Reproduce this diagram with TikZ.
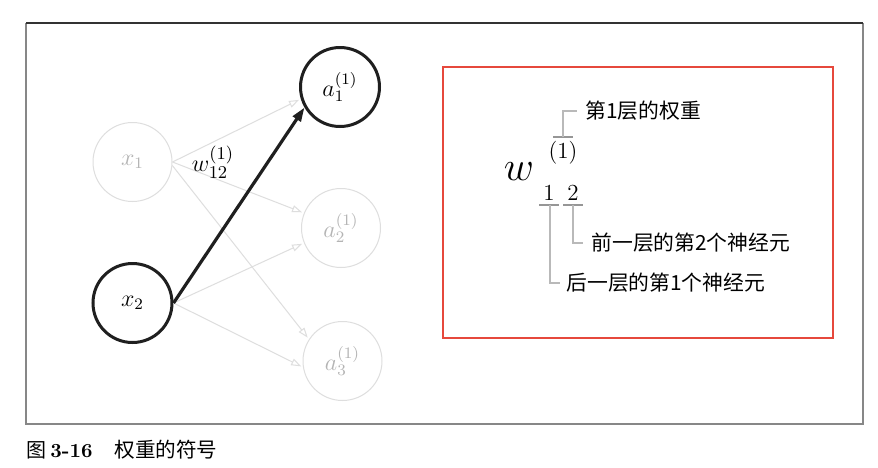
\documentclass[tikz,border=0pt]{standalone}
\usepackage{fontspec}
\newfontfamily\cjk{Noto Sans CJK SC}
\usetikzlibrary{arrows.meta}
\definecolor{lightc}{RGB}{222,222,222}
\definecolor{lighttext}{RGB}{180,180,180}
\definecolor{redbox}{RGB}{230,72,60}
\definecolor{frameg}{RGB}{135,135,135}
\definecolor{barg}{RGB}{150,150,150}
\definecolor{lineg}{RGB}{185,185,185}
\begin{document}
\begin{tikzpicture}[x=0.5pt,y=-0.5pt,
  neuron/.style={circle,minimum size=39.5pt,inner sep=0pt,font=\fontsize{11.8}{13}\selectfont},
  faint/.style={neuron,draw=lightc,line width=0.5pt,text=lighttext},
  strong/.style={neuron,draw=black!88,line width=1.5pt},
  faintarrow/.style={draw=lightc,line width=0.5pt,-{Triangle[open,length=5pt,width=3.5pt]},shorten >=1pt},
  strongarrow/.style={draw=black!88,line width=1.6pt,-{Triangle[length=7pt,width=4.6pt]}},
  cjktext/.style={font=\cjk\fontsize{10.4}{12}\selectfont,inner sep=0pt,anchor=west},
  bar/.style={draw=barg,line width=1.3pt},
  leader/.style={draw=lineg,line width=0.8pt}]
\useasboundingbox (0,0) rectangle (878,467);
\fill[white] (0,0) rectangle (878,467);
% outer frame
\draw[frameg,line width=0.7pt] (26,23) -- (26,424) -- (863,424) -- (863,23);
\draw[black!80,line width=0.8pt] (26,23) -- (863,23);
% neurons
\node[faint]  (x1) at (132.5,162) {$x_1$};
\node[strong] (x2) at (132.5,303) {$x_2$};
\node[strong] (a1) at (340,87)  {$a^{(1)}_1$};
\node[faint]  (a2) at (341,228) {$a^{(1)}_2$};
\node[faint]  (a3) at (342.5,361) {$a^{(1)}_3$};
% connections
\draw[faintarrow] (x1.east) -- (a1.197);
\draw[faintarrow] (x1.east) -- (a2.158);
\draw[faintarrow] (x1.-5) -- (a3.147);
\draw[faintarrow] (x2.east) -- (a2.202);
\draw[faintarrow] (x2.east) -- (a3.189);
\draw[strongarrow] (x2.east) -- (a1.210);
\node[font=\fontsize{12.5}{14}\selectfont] (wl) at (213,162) {$w^{(1)}_{12}$};
% right panel
\draw[redbox,line width=1.2pt] (443,67) rectangle (833,338);
\node[anchor=base,inner sep=0pt,font=\fontsize{20}{22}\selectfont] (w) at (519,180) {$w$};
\node[inner sep=0pt,font=\fontsize{11.5}{13}\selectfont] (sup) at (563,153) {(1)};
\node[anchor=base,inner sep=0pt,font=\fontsize{11.5}{13}\selectfont] (s1) at (549,200) {1};
\node[anchor=base,inner sep=0pt,font=\fontsize{11.5}{13}\selectfont] (s2) at (573,200) {2};
\coordinate (b0) at (563,137);
\coordinate (b1) at (550,205);
\coordinate (b2) at (573,205);
\draw[bar] (553,137) -- (573,137);
\draw[bar] (539,205) -- (559,205);
\draw[bar] (563,205) -- (583,205);
\node[cjktext] (t1) at (585,111) {第1层的权重};
\node[cjktext] (t2) at (591,243) {前一层的第2个神经元};
\node[cjktext] (t3) at (566,283) {后一层的第1个神经元};
\draw[leader] (b0) |- ([xshift=-4]t1.west);
\draw[leader] (b2) |- ([xshift=-4]t2.west);
\draw[leader] (b1) |- ([xshift=-3]t3.west);
% caption
\node[anchor=west,inner sep=0pt] (cap) at (26,450)
  {{\cjk\fontsize{10}{12}\selectfont 图}\hspace{2pt}{\fontsize{10}{12}\selectfont\bfseries 3-16}\hspace{11pt}{\cjk\fontsize{10.3}{12}\selectfont 权重的符号}};
\end{tikzpicture}
\end{document}
